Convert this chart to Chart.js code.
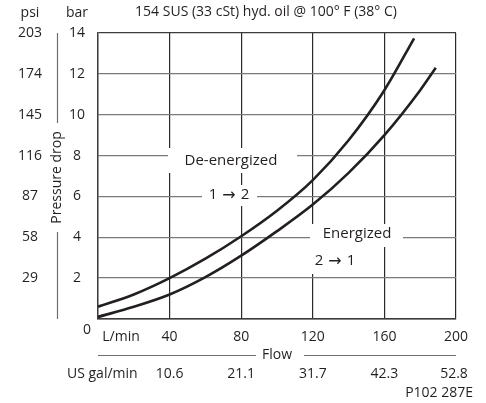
<!DOCTYPE html>
<html>
<head>
<meta charset="utf-8">
<script src="https://cdn.jsdelivr.net/npm/chart.js@4.4.1/dist/chart.umd.min.js"></script>
<style>
    html, body { margin: 0; padding: 0; background: #fff; }
    #wrap { width: 486px; height: 403px; position: relative; }
</style>
</head>
<body>
<div id="wrap"><canvas id="chart"></canvas></div>
<script>
// 🔹 DATA (flow in L/min, pressure drop in bar)
const deEnergizedFlow = [0, 20, 40, 60, 80, 100, 120, 140, 160, 176.6];
const deEnergizedBar  = [0.6, 1.2, 2.0, 2.95, 4.05, 5.3, 6.8, 8.75, 11.2, 13.74];

const energizedFlow = [0, 20, 40, 60, 80, 100, 120, 140, 160, 180, 188.7];
const energizedBar  = [0.1, 0.6, 1.2, 2.05, 3.1, 4.3, 5.6, 7.15, 9.0, 11.2, 12.3];

// 🔹 TICK LABELS
const barTicks = [2, 4, 6, 8, 10, 12, 14];
const psiTicks = ["29", "58", "87", "116", "145", "174", "203"];
const lpmTicks = [40, 80, 120, 160, 200];
const galTicks = ["10.6", "21.1", "31.7", "42.3", "52.8"];

const TITLE = "154 SUS (33 cSt) hyd. oil @ 100\u00B0 F (38\u00B0 C)";
const INK = "#231f20";
const FONT = "'Open Sans', sans-serif";

function toPoints(xs, ys) {
    return xs.map((x, i) => ({ x: x, y: ys[i] }));
}

// 🔥 WHITE BOXES behind the curve labels (cut the grid)
const labelBoxes = [
    { x1: 168, y1: 148, x2: 297, y2: 173 },
    { x1: 202, y1: 185, x2: 257, y2: 206 },
    { x1: 310, y1: 224, x2: 403, y2: 247 },
    { x1: 308, y1: 247, x2: 362, y2: 274 }
];

const gridCut = {
    id: "gridCut",
    beforeDatasetsDraw(chart) {
        const ctx = chart.ctx;
        ctx.save();
        ctx.fillStyle = "#fff";
        labelBoxes.forEach(b => ctx.fillRect(b.x1, b.y1, b.x2 - b.x1, b.y2 - b.y1));
        ctx.restore();
    }
};

// "1 → 2" style label, arrow drawn with a wider glyph
function arrowLabel(ctx, a, b, cx, cy) {
    const numFont = "15px " + FONT;
    const arrowFont = "16px 'DejaVu Sans', sans-serif";
    ctx.font = numFont;
    const wa = ctx.measureText(a).width;
    const wb = ctx.measureText(b).width;
    ctx.font = arrowFont;
    const wr = ctx.measureText("\u2192").width;
    const gap = 5;
    const total = wa + wr + wb + gap * 2;
    let x = cx - total / 2;
    ctx.textAlign = "left";
    ctx.font = numFont;
    ctx.fillText(a, x, cy);
    x += wa + gap;
    ctx.font = arrowFont;
    ctx.fillText("\u2192", x, cy + 1);
    x += wr + gap;
    ctx.font = numFont;
    ctx.fillText(b, x, cy);
    ctx.textAlign = "center";
}

// 🔥 ALL TEXT
const textLayer = {
    id: "textLayer",
    afterDraw(chart) {
        const ctx = chart.ctx;
        const xs = chart.scales.x;
        const ys = chart.scales.y;
        const area = chart.chartArea;

        ctx.save();
        ctx.fillStyle = INK;
        ctx.strokeStyle = "#6d6e71";
        ctx.textBaseline = "middle";

        // title + unit headers
        ctx.textAlign = "center";
        ctx.font = "14px " + FONT;
        ctx.fillText(TITLE, 266, 12);
        ctx.fillText("psi", 30, 13);
        ctx.fillText("bar", 77, 13);

        // y ticks
        barTicks.forEach((v, i) => {
            const py = ys.getPixelForValue(v);
            ctx.fillText(String(v), 77, py);
            ctx.fillText(psiTicks[i], 30, py);
        });
        ctx.fillText("0", 87, 330);

        // Pressure drop title with rule lines
        ctx.lineWidth = 1.2;
        ctx.beginPath();
        ctx.moveTo(57.5, area.top);
        ctx.lineTo(57.5, 123);
        ctx.moveTo(57.5, 232);
        ctx.lineTo(57.5, area.bottom);
        ctx.stroke();
        ctx.save();
        ctx.translate(57, 177.5);
        ctx.rotate(-Math.PI / 2);
        ctx.fillText("Pressure drop", 0, 0);
        ctx.restore();

        // x ticks
        ctx.fillText("L/min", 121, 337);
        lpmTicks.forEach((v, i) => {
            const px = xs.getPixelForValue(v);
            ctx.fillText(String(v), px, 337);
            ctx.fillText(galTicks[i], px - (i === 4 ? 2 : 0), 374);
        });
        ctx.textAlign = "left";
        ctx.fillText("US gal/min", 67, 374);

        // Flow title with rule lines
        ctx.textAlign = "center";
        ctx.fillText("Flow", 277, 355);
        ctx.beginPath();
        ctx.moveTo(area.left, 355.5);
        ctx.lineTo(256, 355.5);
        ctx.moveTo(304, 355.5);
        ctx.lineTo(area.right, 355.5);
        ctx.stroke();

        // curve labels
        ctx.font = "15px " + FONT;
        ctx.fillText("De-energized", 231, 161);
        arrowLabel(ctx, "1", "2", 229, 195);
        ctx.font = "15px " + FONT;
        ctx.fillText("Energized", 357, 234);
        arrowLabel(ctx, "2", "1", 335, 261);

        // drawing number
        ctx.font = "14px " + FONT;
        ctx.textAlign = "right";
        ctx.fillText("P102 287E", 473, 393);
        ctx.restore();
    }
};

const curveStyle = {
    borderColor: INK,
    borderWidth: 2.6,
    pointRadius: 0,
    fill: false,
    showLine: true,
    cubicInterpolationMode: "monotone"
};

new Chart(document.getElementById("chart"), {
    type: "scatter",
    data: {
        datasets: [
            Object.assign({ label: "De-energized 1 \u2192 2", data: toPoints(deEnergizedFlow, deEnergizedBar) }, curveStyle),
            Object.assign({ label: "Energized 2 \u2192 1", data: toPoints(energizedFlow, energizedBar) }, curveStyle)
        ]
    },
    options: {
        responsive: true,
        maintainAspectRatio: false,
        animation: false,
        layout: { padding: { left: 98, right: 30, top: 33, bottom: 84 } },
        plugins: {
            legend: { display: false },
            tooltip: { enabled: false }
        },
        scales: {
            x: {
                type: "linear",
                min: 0,
                max: 200,
                ticks: { stepSize: 40, display: false },
                grid: { color: "#2a2a2a", lineWidth: 1.2, drawTicks: false },
                border: { color: "#3c3c3c", width: 1.4 }
            },
            y: {
                min: 0,
                max: 14,
                ticks: { stepSize: 2, display: false },
                grid: {
                    color: ctx => (ctx.tick && (ctx.tick.value === 0 || ctx.tick.value === 14)) ? "#3c3c3c" : "#7a7a7a",
                    lineWidth: 1.3,
                    drawTicks: false
                },
                border: { color: "#3c3c3c", width: 1.4 }
            }
        }
    },
    plugins: [gridCut, textLayer]
});
</script>
</body>
</html>
